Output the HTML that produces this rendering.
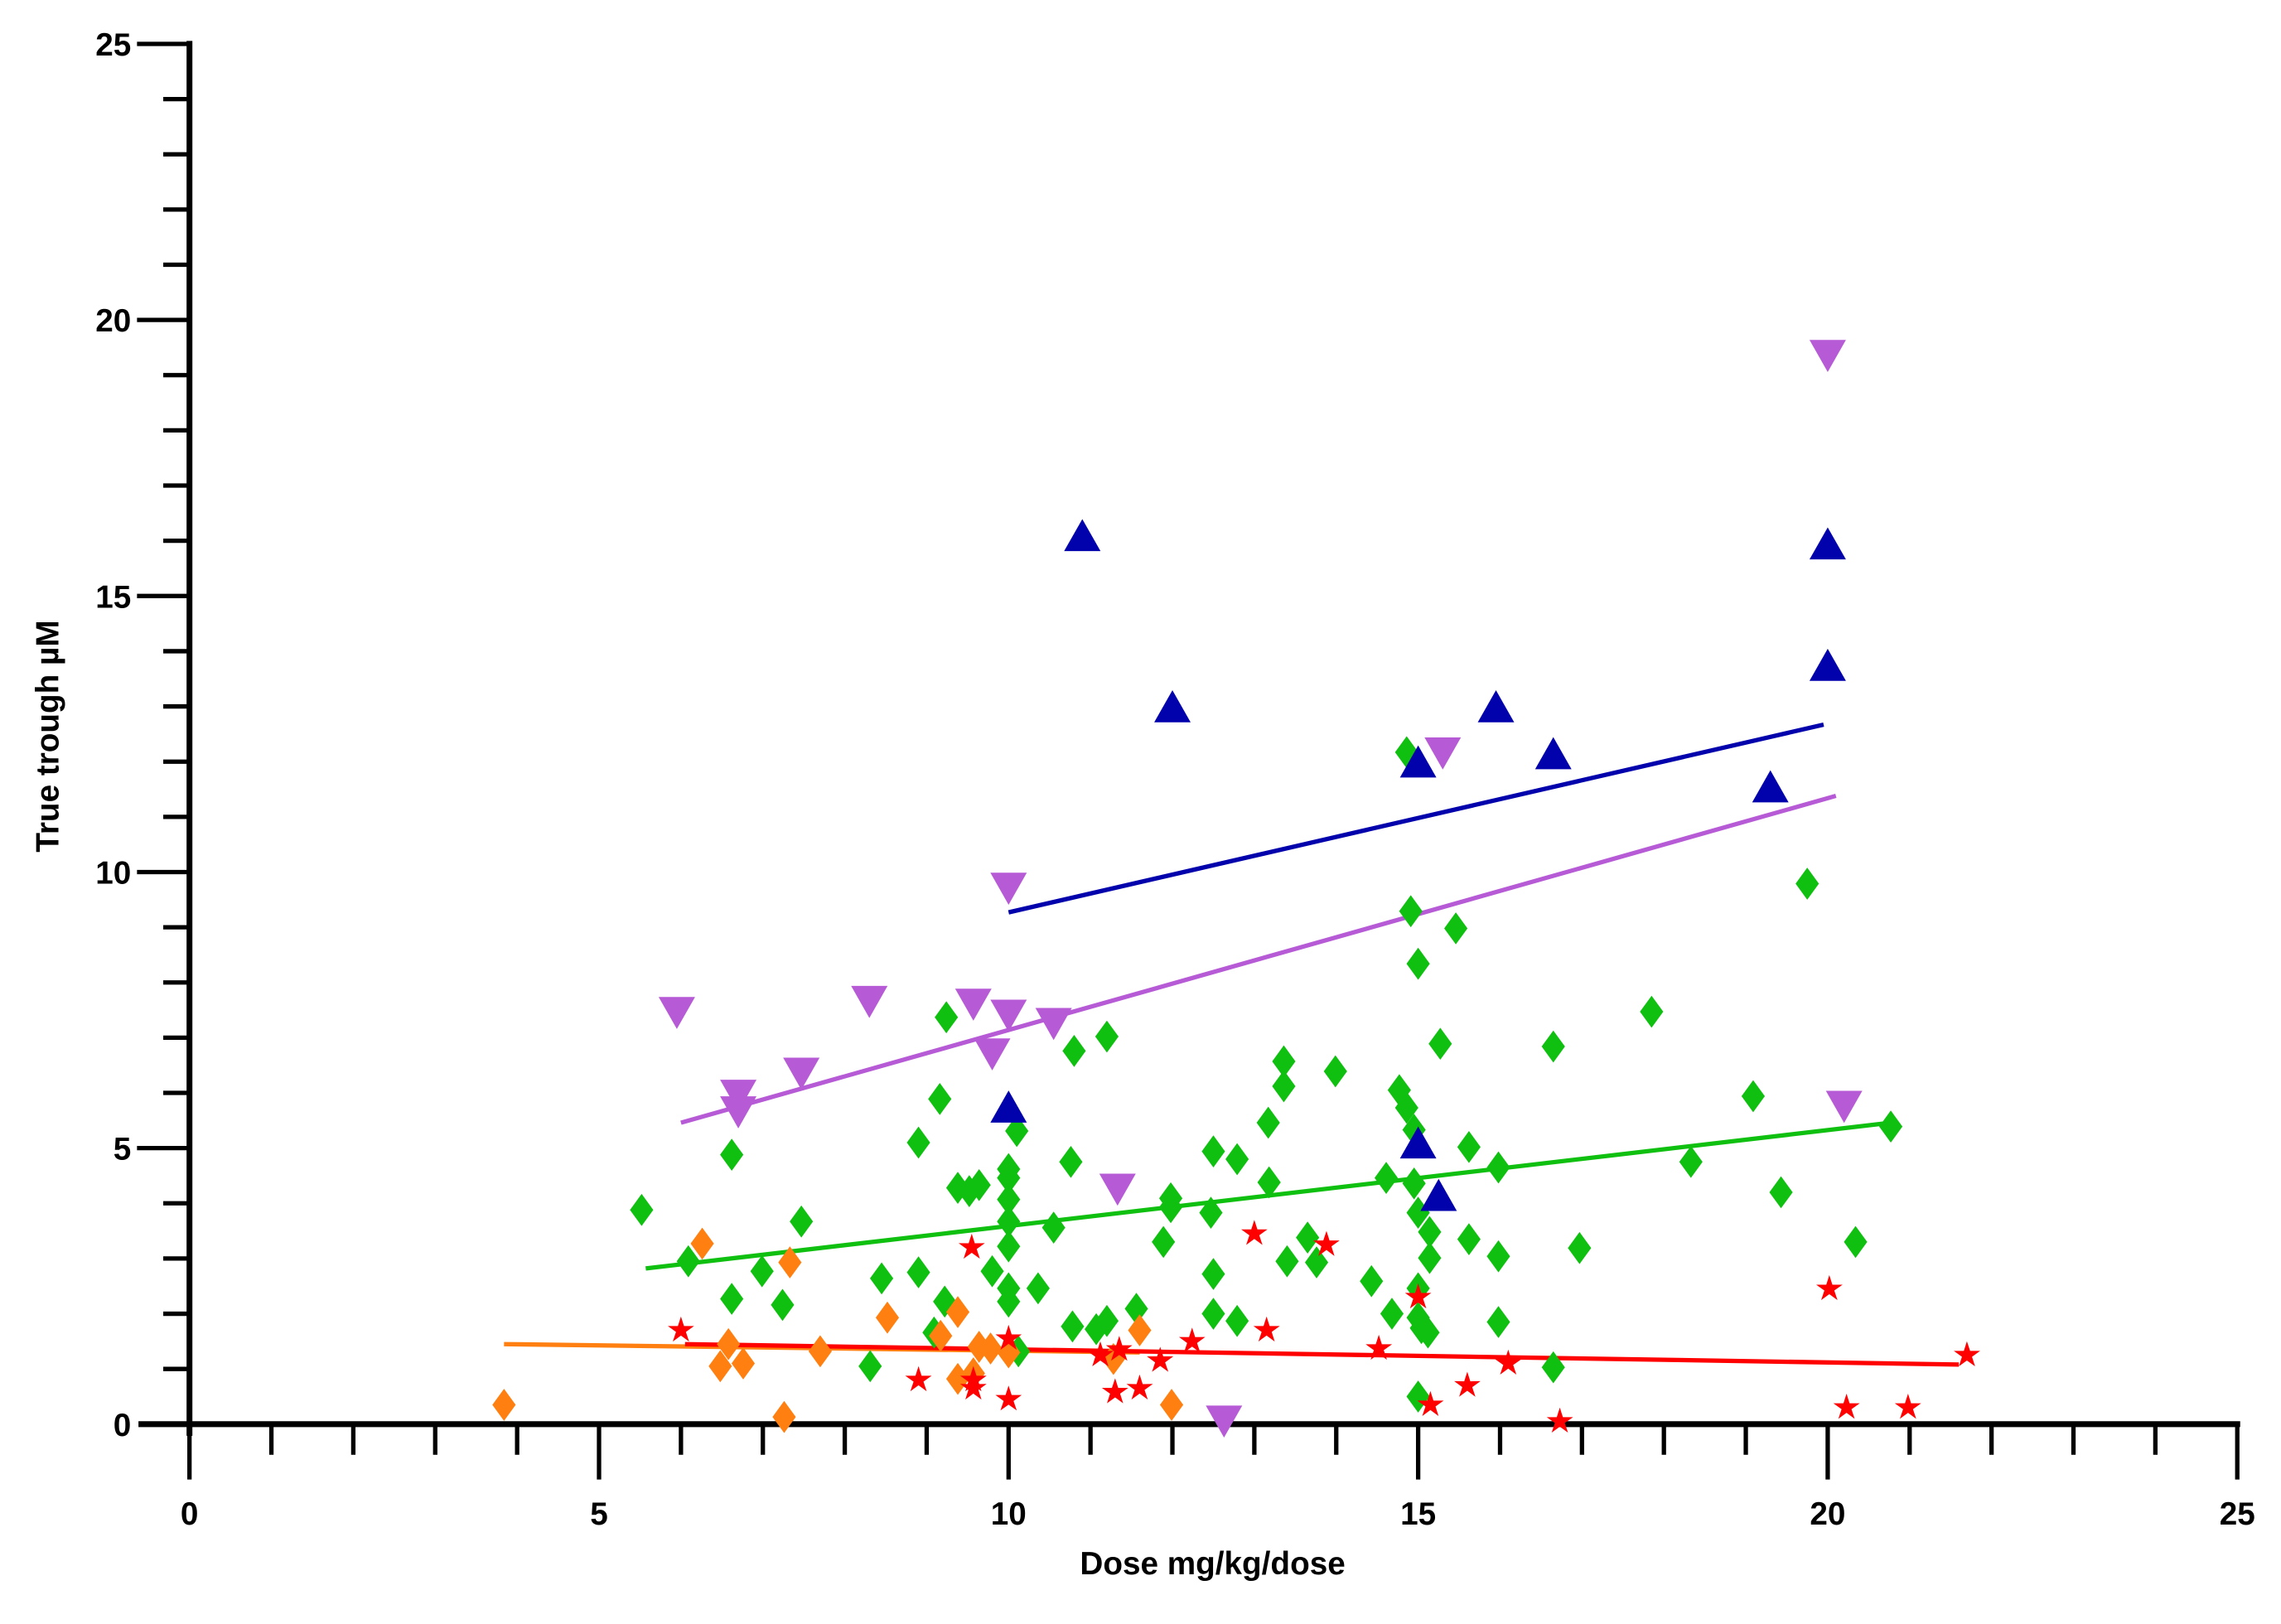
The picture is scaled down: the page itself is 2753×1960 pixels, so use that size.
<!DOCTYPE html>
<html><head><meta charset="utf-8"><style>
html,body{margin:0;padding:0;background:#fff;}
svg{display:block;}
text{font-family:"Liberation Sans",Arial,sans-serif;font-weight:bold;fill:#000;}
</style></head><body>
<svg id="chart" width="2753" height="1960" viewBox="0 0 1565 1114" xmlns="http://www.w3.org/2000/svg">
<g id="axes"></g>
<g id="lines"></g>
<g id="marks"></g>
<text x="832" y="1080" font-size="22" text-anchor="middle">Dose mg/kg/dose</text>
<text transform="translate(40,505) rotate(-90)" font-size="22" text-anchor="middle">True trough µM</text>
</svg>
<script>
const xTicks=[0,5,10,15,20,25];
const yTicks=[0,5,10,15,20,25];
const blueX=[10.0,10.9,12.0,15.0,15.0,15.25,15.95,16.65,19.3,20.0,20.0];
const blueY=[5.7,16.05,12.95,11.95,5.05,4.1,12.95,12.1,11.5,15.9,13.7];
const purpleX=[5.95,6.7,6.7,7.47,8.3,9.57,9.8,10.0,10.0,10.55,11.33,12.63,15.3,20.0,20.2];
const purpleY=[7.5,6.0,5.7,6.4,7.7,7.65,6.75,7.45,9.75,7.3,4.3,0.1,12.2,19.4,5.8];
const greenX=[5.52,6.09,6.62,6.62,6.99,7.24,7.47,8.31,8.45,8.9,8.9,9.09,9.16,9.24,9.22,9.38,9.52,9.64,9.8,10,10,10,10,10,10,10,10.1,10.12,10.55,10.36,10.76,10.8,10.78,11.07,11.2,11.2,11.56,11.89,11.98,11.98,12.47,12.5,12.5,12.5,12.79,12.79,13.17,13.18,13.36,13.36,13.4,13.65,13.76,13.99,14.43,14.61,14.68,14.77,14.86,14.86,14.91,14.95,15,14.95,15,15,15,15.04,15,15.12,15.14,15.14,15.27,15.46,15.62,15.62,15.98,15.98,15.98,16.65,16.65,16.97,17.85,18.33,19.09,19.43,19.75,20.34,20.77];
const greenY=[3.88,2.95,4.88,2.27,2.77,2.16,3.67,1.05,2.64,5.1,2.75,1.66,5.89,7.37,2.22,4.28,4.22,4.33,2.77,4.62,4.46,4.07,3.67,3.22,2.46,2.22,5.31,1.32,3.56,2.46,4.75,6.76,1.77,1.72,1.87,7.02,2.09,3.3,4.09,3.93,3.83,4.94,2.72,2.0,4.8,1.87,5.46,4.38,6.57,6.12,2.95,3.38,2.93,6.39,2.59,4.46,2.0,6.05,12.17,5.73,9.29,5.33,8.34,4.36,3.83,2.46,1.93,1.74,0.5,1.66,3.48,3.01,6.89,8.98,5.02,3.35,4.65,3.04,1.85,6.84,1.03,3.19,7.47,4.75,5.94,4.2,9.79,3.3,5.39];
const orangeX=[3.84,6.26,6.48,6.58,6.76,7.26,7.33,7.7,8.52,9.17,9.38,9.38,9.57,9.64,9.78,10.0,11.28,11.6,11.99];
const orangeY=[0.35,3.27,1.05,1.45,1.1,0.13,2.93,1.32,1.93,1.6,2.03,0.82,0.92,1.4,1.37,1.3,1.18,1.7,0.35];
const redX=[6.0,9.55,8.9,9.57,9.57,10.0,10.0,11.12,11.3,11.35,11.6,11.85,12.24,13.0,13.15,13.88,14.52,15.0,15.15,15.6,16.1,16.73,20.02,20.23,20.98,21.7];
const redY=[1.7,3.2,0.8,0.8,0.65,1.55,0.45,1.25,0.58,1.35,0.65,1.15,1.5,3.45,1.7,3.25,1.37,2.3,0.35,0.7,1.1,0.05,2.45,0.3,0.3,1.25];
const fitNames=['orange','red','green','purple','blue'];
const fitX1=[3.84,6.05,5.57,6.0,10.0];
const fitY1=[1.45,1.45,2.82,5.46,9.27];
const fitX2=[11.6,21.6,20.77,20.1,19.95];
const fitY2=[1.3,1.08,5.46,11.38,12.67];

const NS='http://www.w3.org/2000/svg';
const X0=130,X1=1535,Y0=977,Y1=30;
function sx(v){return X0+(X1-X0)*v/25;}
function sy(v){return Y0-(Y0-Y1)*v/25;}
function mk(tag,attrs,parent){const e=document.createElementNS(NS,tag);for(const k in attrs)e.setAttribute(k,attrs[k]);parent.appendChild(e);return e;}
const axes=document.getElementById('axes');
const lines=document.getElementById('lines');
const marks=document.getElementById('marks');
const colors={blue:'#0202ad',purple:'#b65ad6',green:'#10c010',orange:'#ff7f10',red:'#ff0000'};

let a=mk('line',{x1:X0,y1:Y1-2,x2:X0,y2:Y0+8,stroke:'#000','stroke-width':4},axes);


a=mk('line',{x1:X0-35,y1:Y0,x2:X1+2,y2:Y0,stroke:'#000','stroke-width':4},axes);


for(let i=0;i<=25;i++){
  const maj=i%5===0;
  let t=mk('line',{x1:sx(i),y1:Y0,x2:sx(i),y2:Y0+(maj?38:21),stroke:'#000','stroke-width':3},axes);
  
  
  if(i>0){
  t=mk('line',{x1:X0,y1:sy(i),x2:X0-(maj?36:18),y2:sy(i),stroke:'#000','stroke-width':3},axes);
  
  }
}
xTicks.forEach(v=>{const t=mk('text',{x:sx(v),y:Y0+69,'font-size':22,'text-anchor':'middle'},axes);t.textContent=v;

});
yTicks.forEach(v=>{const t=mk('text',{x:X0-40,y:sy(v)+8,'font-size':22,'text-anchor':'end'},axes);t.textContent=v;

});

fitNames.forEach((n,i)=>{const l=mk('line',{x1:sx(fitX1[i]),y1:sy(fitY1[i]),x2:sx(fitX2[i]),y2:sy(fitY2[i]),stroke:colors[n],'stroke-width':3},lines);

});

function diamond(x,y,c){return mk('polygon',{points:`${x},${y-11} ${x+8},${y} ${x},${y+11} ${x-8},${y}`,fill:c},marks);}
function triUp(x,y,c){return mk('polygon',{points:`${x},${y-13} ${x+12.5},${y+9} ${x-12.5},${y+9}`,fill:c},marks);}
function triDown(x,y,c){return mk('polygon',{points:`${x},${y+13} ${x+12.5},${y-9} ${x-12.5},${y-9}`,fill:c},marks);}
function star(x,y,c){let pts=[];for(let k=0;k<10;k++){const r=k%2?3.6:9.5;const a=-Math.PI/2+k*Math.PI/5;pts.push((x+r*Math.cos(a)).toFixed(1)+','+(y+r*Math.sin(a)).toFixed(1));}
return mk('polygon',{points:pts.join(' '),fill:c},marks);}

greenX.forEach((v,i)=>{const e=diamond(sx(v),sy(greenY[i]),colors.green);

});
orangeX.forEach((v,i)=>{const e=diamond(sx(v),sy(orangeY[i]),colors.orange);

});
redX.forEach((v,i)=>{const e=star(sx(v),sy(redY[i]),colors.red);

});
purpleX.forEach((v,i)=>{const e=triDown(sx(v),sy(purpleY[i]),colors.purple);

});
blueX.forEach((v,i)=>{const e=triUp(sx(v),sy(blueY[i]),colors.blue);

});
</script>
</body></html>
